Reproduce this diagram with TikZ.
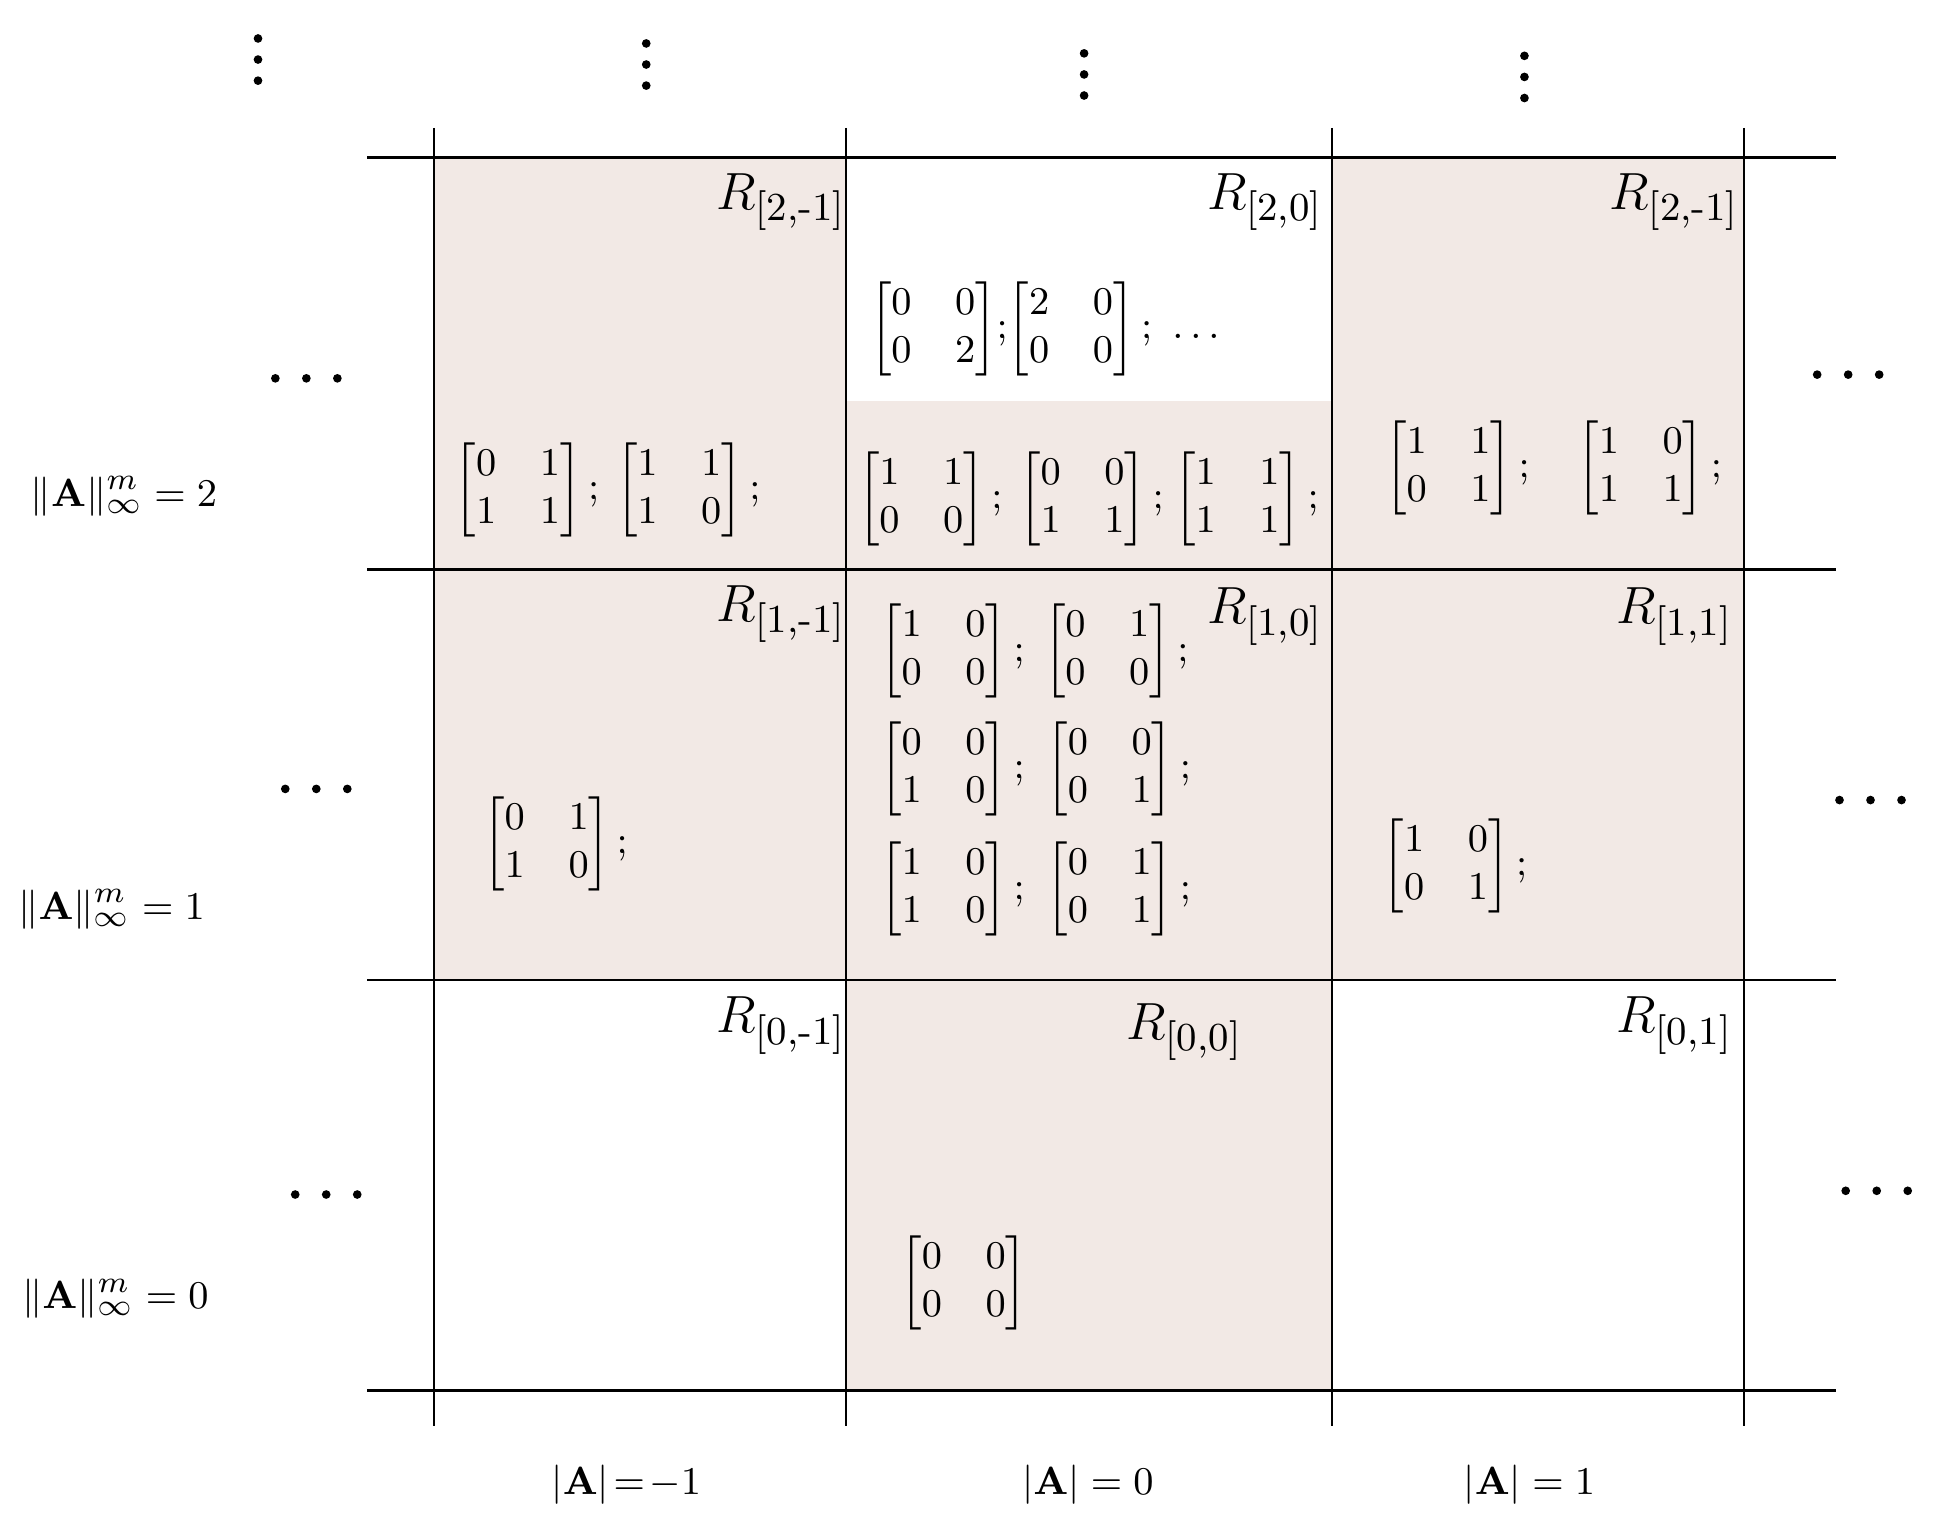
\documentclass[tikz,border=0pt]{standalone}
\usepackage{amsmath}
\begin{document}
\begin{tikzpicture}[x=0.01cm,y=-0.01cm,
  grid/.style={line width=0.6pt},
  rlab/.style={font=\fontsize{13}{15}\selectfont},
  mat/.style={font=\fontsize{9}{11}\selectfont,inner sep=0pt},
  axlab/.style={font=\fontsize{9.5}{11}\selectfont},
  dotc/.style={fill=black}]
\definecolor{pinkbg}{HTML}{F2E9E5}
\useasboundingbox (0,0) rectangle (1560,1235);
% shading
\fill[pinkbg] (350,127) rectangle (682,790);
\fill[pinkbg] (682,323) rectangle (1074,1121);
\fill[pinkbg] (1074,127) rectangle (1406,790);
% grid
\foreach \y in {127,459,790,1121} \draw[grid] (296,\y) -- (1480,\y);
\foreach \x in {350,682,1074,1406} \draw[grid] (\x,103) -- (\x,1150);
% region labels
\node[rlab] (r2m) at (630,163) {$R_{\textrm{[2,-1]}}$};
\node[rlab] (r20) at (1020,163) {$R_{\textrm{[2,0]}}$};
\node[rlab] (r21) at (1350,163) {$R_{\textrm{[2,-1]}}$};
\node[rlab] (r1m) at (630,495) {$R_{\textrm{[1,-1]}}$};
\node[rlab] (r10) at (1020,497) {$R_{\textrm{[1,0]}}$};
\node[rlab] (r11) at (1350,497) {$R_{\textrm{[1,1]}}$};
\node[rlab] (r0m) at (630,827) {$R_{\textrm{[0,-1]}}$};
\node[rlab] (r00) at (955,832) {$R_{\textrm{[0,0]}}$};
\node[rlab] (r01) at (1350,827) {$R_{\textrm{[0,1]}}$};
% matrices
\node[mat] (m1) at (425,395) {$\begin{bmatrix}0&1\\1&1\end{bmatrix};$};
\node[mat] (m2) at (555,395) {$\begin{bmatrix}1&1\\1&0\end{bmatrix};$};
\node[mat] (m3) at (845,265) {$\begin{bmatrix}0&0\\0&2\end{bmatrix}\!;\!\begin{bmatrix}2&0\\0&0\end{bmatrix};\ \dots$};
\node[mat] (m4) at (750,402) {$\begin{bmatrix}1&1\\0&0\end{bmatrix};$};
\node[mat] (m5) at (880,402) {$\begin{bmatrix}0&0\\1&1\end{bmatrix};$};
\node[mat] (m6) at (1005,402) {$\begin{bmatrix}1&1\\1&1\end{bmatrix};$};
\node[mat] (m7) at (1175,377) {$\begin{bmatrix}1&1\\0&1\end{bmatrix};$};
\node[mat] (m8) at (1330,377) {$\begin{bmatrix}1&0\\1&1\end{bmatrix};$};
\node[mat] (m9) at (448,680) {$\begin{bmatrix}0&1\\1&0\end{bmatrix};$};
\node[mat] (m10) at (768,525) {$\begin{bmatrix}1&0\\0&0\end{bmatrix};$};
\node[mat] (m11) at (900,525) {$\begin{bmatrix}0&1\\0&0\end{bmatrix};$};
\node[mat] (m12) at (768,620) {$\begin{bmatrix}0&0\\1&0\end{bmatrix};$};
\node[mat] (m13) at (902,620) {$\begin{bmatrix}0&0\\0&1\end{bmatrix};$};
\node[mat] (m14) at (768,717) {$\begin{bmatrix}1&0\\1&0\end{bmatrix};$};
\node[mat] (m15) at (902,717) {$\begin{bmatrix}0&1\\0&1\end{bmatrix};$};
\node[mat] (m16) at (1173,698) {$\begin{bmatrix}1&0\\0&1\end{bmatrix};$};
\node[mat] (m17) at (777,1034) {$\begin{bmatrix}0&0\\0&0\end{bmatrix}$};
% axis labels
\node[axlab] (l2) at (100,400) {$\|\mathbf{A}\|_\infty^m=2$};
\node[axlab] (l1) at (90,733) {$\|\mathbf{A}\|_\infty^m=1$};
\node[axlab] (l0) at (93,1047) {$\|\mathbf{A}\|_\infty^m=0$};
\node[axlab] (bm) at (505,1197) {$|\mathbf{A}|\!=\!-1$};
\node[axlab] (b0) at (877,1197) {$|\mathbf{A}|=0$};
\node[axlab] (b1) at (1233,1197) {$|\mathbf{A}|=1$};
% dots
\foreach \x/\y in {208/48,521/52,874/60,1229/62}
  \foreach \d in {-17,0,17} \fill[dotc] (\x,\y+\d) circle (3.5);
\foreach \x/\y in {247/305,255/636,263/963,1490/302,1508/645,1513/960}
  \foreach \d in {-25,0,25} \fill[dotc] (\x+\d,\y) circle (3.5);
\end{tikzpicture}
\end{document}
